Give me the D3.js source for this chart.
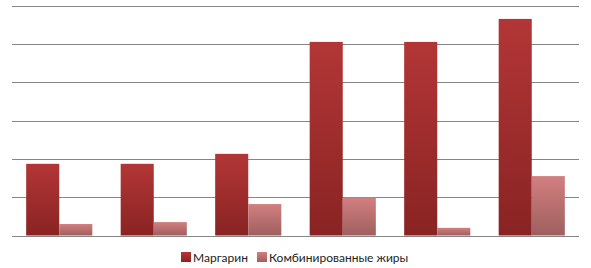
<!DOCTYPE html>
<html>
<head>
<meta charset="utf-8">
<script src="https://cdn.jsdelivr.net/npm/d3@7"></script>
<style>
  html, body { margin: 0; padding: 0; background: #fff; }
  svg { display: block; }
</style>
</head>
<body>
<div id="chart"></div>
<script>
(function () {
  const width = 591;
  const height = 268;

  // categories have no visible labels in the picture
  const categories = ["1", "2", "3", "4", "5", "6"];
  const seriesNames = ["Маргарин", "Комбинированные жиры"];
  const margarine = [1.87, 1.87, 2.13, 5.05, 5.05, 5.65];
  const combined = [0.30, 0.35, 0.82, 0.99, 0.20, 1.55];
  const gridTicks = [0, 1, 2, 3, 4, 5, 6];

  const margin = { top: 5.5, right: 12, bottom: 32.5, left: 12 };

  const svg = d3.select("#chart").append("svg")
    .attr("width", width)
    .attr("height", height)
    .style("font-family", "Lato, 'Open Sans', sans-serif");

  const defs = svg.append("defs");
  const grads = [
    { id: "g0", top: "#b33636", bottom: "#892323" },
    { id: "g1", top: "#d27f7f", bottom: "#9f5f5f" }
  ];
  grads.forEach(g => {
    const lg = defs.append("linearGradient")
      .attr("id", g.id)
      .attr("x1", 0).attr("y1", 0).attr("x2", 0).attr("y2", 1);
    lg.append("stop").attr("offset", "0%").attr("stop-color", g.top);
    lg.append("stop").attr("offset", "100%").attr("stop-color", g.bottom);
  });

  const x = d3.scaleBand()
    .domain(categories)
    .range([margin.left, width - margin.right])
    .paddingInner(0.3)
    .paddingOuter(0.15);

  const xs = d3.scaleBand()
    .domain([0, 1])
    .range([0, x.bandwidth()]);

  const y = d3.scaleLinear()
    .domain([0, 6])
    .range([height - margin.bottom, margin.top]);

  // gridlines
  svg.append("g")
    .selectAll("line")
    .data(gridTicks)
    .join("line")
    .attr("x1", margin.left)
    .attr("x2", width - margin.right)
    .attr("y1", d => Math.round(y(d)) + 0.5)
    .attr("y2", d => Math.round(y(d)) + 0.5)
    .attr("stroke", "#868686")
    .attr("stroke-width", 1);

  const series = [margarine, combined];

  const groups = svg.append("g")
    .selectAll("g")
    .data(categories)
    .join("g")
    .attr("transform", d => `translate(${x(d)},0)`);

  groups.selectAll("rect")
    .data((d, i) => series.map((s, k) => ({ k, v: s[i] })))
    .join("rect")
    .attr("x", d => xs(d.k))
    .attr("width", xs.bandwidth())
    .attr("y", d => y(d.v))
    .attr("height", d => y(0) - y(d.v))
    .attr("fill", d => `url(#g${d.k})`);

  // redraw baseline over bars
  svg.append("line")
    .attr("x1", margin.left)
    .attr("x2", width - margin.right)
    .attr("y1", Math.round(y(0)) + 0.5)
    .attr("y2", Math.round(y(0)) + 0.5)
    .attr("stroke", "#868686");

  // legend
  const legendX = [181, 257];
  const legend = svg.append("g")
    .selectAll("g")
    .data(seriesNames)
    .join("g")
    .attr("transform", (d, i) => `translate(${legendX[i]},252)`);

  legend.append("rect")
    .attr("width", 10)
    .attr("height", 10)
    .attr("fill", (d, i) => `url(#g${i})`);

  legend.append("text")
    .attr("x", 12)
    .attr("y", 9.5)
    .attr("font-size", 12)
    .attr("fill", "#222")
    .text(d => d);
})();
</script>
</body>
</html>
